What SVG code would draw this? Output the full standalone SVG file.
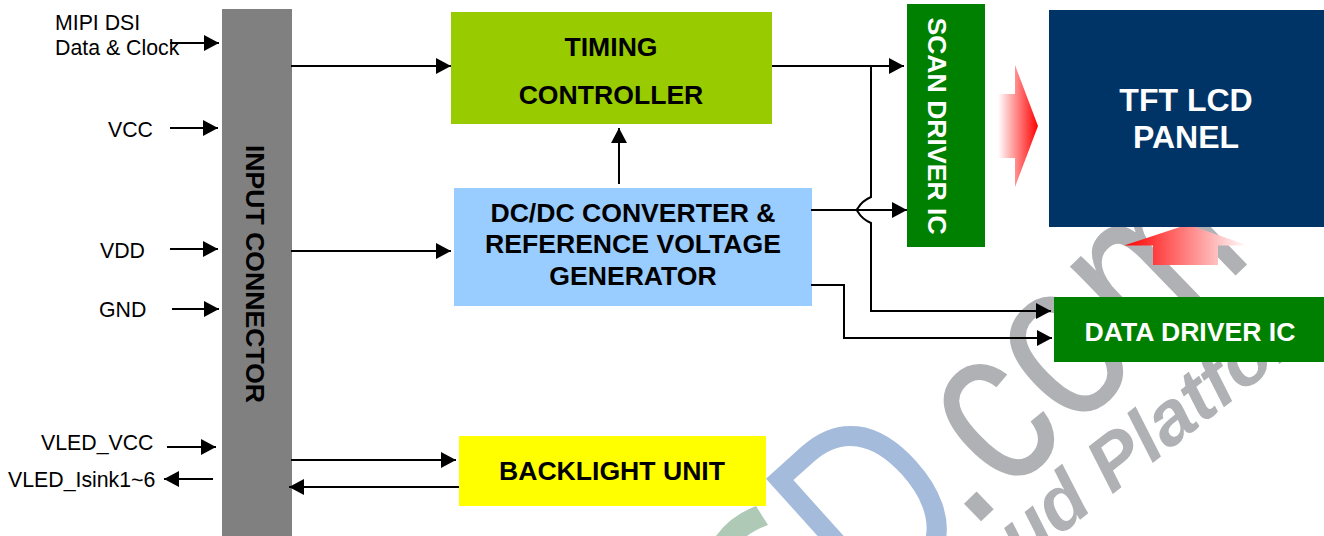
<svg xmlns="http://www.w3.org/2000/svg" width="1324" height="536" viewBox="0 0 1324 536">
<style>
text{font-family:"Liberation Sans",Arial,sans-serif}
.lbl{font-size:21.3px;fill:#000}
.b{font-weight:bold;text-anchor:middle}
.w{fill:#fff}
.k{fill:#000}
.c{fill:none;stroke:#000;stroke-width:2}
.t{font-size:26.6px}
</style>
<defs>
<marker id="a" markerUnits="userSpaceOnUse" markerWidth="16" markerHeight="16" refX="15" refY="8" orient="auto"><path d="M0 0L15 8L0 16Z" fill="#000"/></marker>
<linearGradient id="g1" x1="0" x2="1" y1="0" y2="0"><stop offset="0" stop-color="#fff"/><stop offset="1" stop-color="#f00"/></linearGradient>
<linearGradient id="g2" x1="0" x2="1" y1="0" y2="0"><stop offset="0" stop-color="#f00"/><stop offset="1" stop-color="#fff"/></linearGradient>
</defs>
<g id="watermark">
<text transform="translate(969 533) rotate(-44) scale(.8 1)" font-size="230" fill="#b0b1b5">.com</text>
<text transform="translate(1022 565) rotate(-38)" font-size="76" font-weight="bold" font-style="italic" fill="#b0b1b5">ud Platfor</text>
<text transform="translate(873 623) rotate(-42) scale(.8 1)" font-size="260" fill="#a5bbdb">D</text>
<path d="M716 536Q730 516 756 506L768 525Q755 530 747 536Z" fill="#aec9b5"/>
</g>
<g id="input-connector"><rect x="222" y="9" width="70" height="527" fill="#808080"/><text class="b k t" transform="translate(246 274) rotate(90)">INPUT CONNECTOR</text></g>
<g id="timing-controller"><rect x="451" y="12" width="321" height="112" fill="#99cc00"/><text class="b k t" x="611" y="56">TIMING</text><text class="b k t" x="611" y="104">CONTROLLER</text></g>
<g id="dcdc"><rect x="454" y="188" width="358" height="118" fill="#99ccff"/><text class="b k t" x="633" y="222">DC/DC CONVERTER &amp;</text><text class="b k t" x="633" y="253">REFERENCE VOLTAGE</text><text class="b k t" x="633" y="285">GENERATOR</text></g>
<g id="backlight"><rect x="459" y="436" width="307" height="70" fill="#ffff00"/><text class="b k t" x="612" y="480">BACKLIGHT UNIT</text></g>
<g id="scan-driver"><rect x="907" y="4" width="78" height="243" fill="#008000"/><text class="b w t" transform="translate(928 126) rotate(90)">SCAN DRIVER IC</text></g>
<g id="panel"><rect x="1049" y="10" width="275" height="217" fill="#003366"/><text class="b w" font-size="32" x="1186" y="111">TFT LCD</text><text class="b w" font-size="32" x="1186" y="148">PANEL</text></g>
<g id="data-driver"><rect x="1054" y="297" width="270" height="65" fill="#008000"/><text class="b w t" x="1190" y="341">DATA DRIVER IC</text></g>
<g id="arrow-scan-panel"><path d="M998 94H1015V65L1038 126L1015 187V158H998Z" fill="url(#g1)"/></g>
<g id="arrow-data-panel"><path d="M1124 245.500L1180 227H1195L1248 245.500H1218V265H1153V245.500Z" fill="url(#g2)"/></g>
<g id="labels">
<text class="lbl" x="55" y="30">MIPI DSI</text><text class="lbl" x="55" y="55">Data &amp; Clock</text>
<text class="lbl" x="108" y="137">VCC</text><text class="lbl" x="100" y="258">VDD</text><text class="lbl" x="99" y="317">GND</text>
<text class="lbl" x="41" y="450">VLED_VCC</text><text class="lbl" x="8" y="487">VLED_Isink1~6</text>
</g>
<g id="connectors">
<path class="c" marker-end="url(#a)" d="M170 43H219"/>
<path class="c" marker-end="url(#a)" d="M170 128H218"/>
<path class="c" marker-end="url(#a)" d="M170 249H218"/>
<path class="c" marker-end="url(#a)" d="M172 309H219"/>
<path class="c" marker-end="url(#a)" d="M167 447H216"/>
<path class="c" marker-end="url(#a)" d="M213 479H164"/>
<path class="c" marker-end="url(#a)" d="M291 66H451"/>
<path class="c" marker-end="url(#a)" d="M291 251H451"/>
<path class="c" marker-end="url(#a)" d="M291 460H456"/>
<path class="c" marker-end="url(#a)" d="M459 487H289"/>
<path class="c" marker-end="url(#a)" d="M619 184V128"/>
<path class="c" marker-end="url(#a)" d="M772 66H904"/>
<path class="c" marker-end="url(#a)" d="M811 210H907"/>
<path class="c" marker-end="url(#a)" d="M871 66V197Q862 201 858 208Q856 210 858 212Q862 219 871 223V311H1051"/>
<path class="c" marker-end="url(#a)" d="M811 285H844V338H1052"/>
</g>
</svg>
